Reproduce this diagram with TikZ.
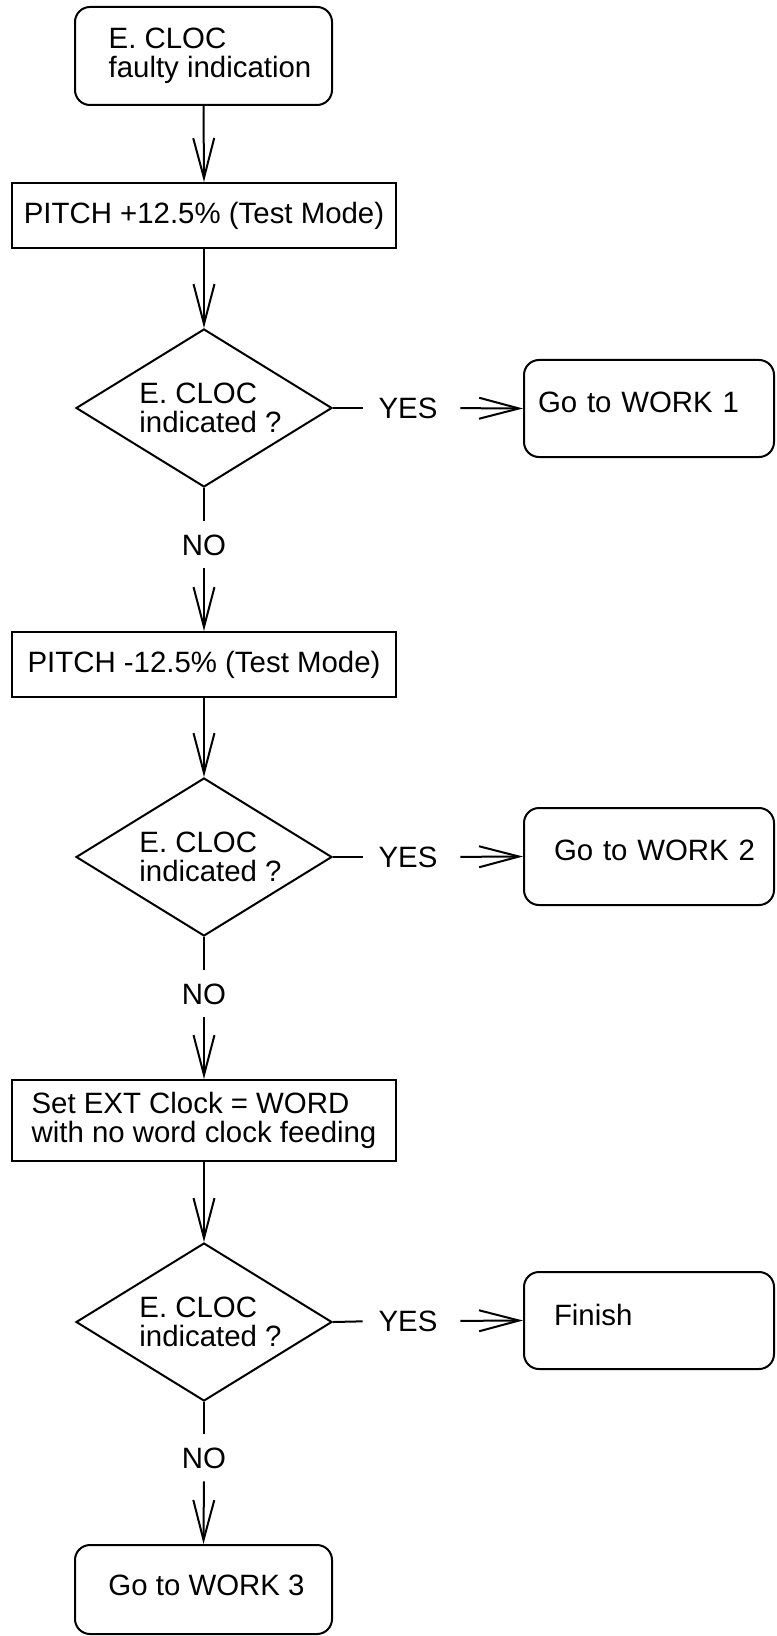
\documentclass[tikz,border=0pt]{standalone}
\usepackage{fontspec}
\setmainfont{Liberation Sans}
\usetikzlibrary{shapes.geometric,arrows.meta}

\tikzset{every picture/.style={line width=1pt}}
\tikzset{
  flow/.style={-{Straight Barb[length=20pt,width=10.5pt]}},
  termbox/.style={draw,rounded corners=7.5pt,align=left},
  gotobox/.style={draw,rounded corners=7.5pt,minimum width=125pt,minimum height=48.5pt,inner xsep=7pt,text width=111pt,align=left,text depth=6pt},
  stepbox/.style={draw,minimum width=192pt,align=left},
  decision/.style={draw,diamond,aspect=1.6,minimum width=128pt,minimum height=79pt,inner sep=1pt,align=left},
  answer/.style={inner sep=0pt}
}
\newcommand{\pad}{\hspace*{6.5pt}}

\begin{document}
\begin{tikzpicture}[x=0.5pt,y=0.5pt,yscale=-1,xscale=1,font=\fontsize{14.7}{14.5}\selectfont]
\useasboundingbox (0,0) rectangle (776,1636);

%Shape: Rounded Rect [id:start]
\node[termbox,minimum width=128.5pt,minimum height=49pt] (start) at (203.5,56) {\pad E. CLOC\\\pad faulty indication};
%Shape: Rectangle [id:pitchup]
\node[stepbox,minimum height=32.5pt] (pitchup) at (204,215.5) {PITCH +12.5\% (Test Mode)};
%Shape: Diamond [id:dec1]
\node[decision] (dec1) at (204,408) {\pad E. CLOC\\\pad indicated ?};
%Shape: Rounded Rect [id:work1]
\node[gotobox] (work1) at (649,408.5) {Go to WORK 1};

%Shape: Rectangle [id:pitchdown]
\node[stepbox,minimum height=32.5pt] (pitchdown) at (204,664.5) {PITCH -12.5\% (Test Mode)};
%Shape: Diamond [id:dec2]
\node[decision] (dec2) at (204,857) {\pad E. CLOC\\\pad indicated ?};
%Shape: Rounded Rect [id:work2]
\node[gotobox] (work2) at (649,856.5) {\hspace*{8pt}Go to WORK 2};

%Shape: Rectangle [id:clockset]
\node[stepbox,minimum height=40.5pt] (clockset) at (204,1120.5) {Set EXT Clock = WORD\\with no word clock feeding};
%Shape: Diamond [id:dec3]
\node[decision] (dec3) at (204,1322) {\pad E. CLOC\\\pad indicated ?};
%Shape: Rounded Rect [id:finish]
\node[gotobox] (finish) at (649,1320.5) {\hspace*{8pt}Finish};
%Shape: Rounded Rect [id:work3]
\node[termbox,minimum width=128.5pt,minimum height=44.5pt,text depth=4pt] (work3) at (203.5,1589.5) {\hspace*{3pt}Go to WORK 3};

% Text Node
\node[answer] (yes1) at (408,408) {YES};
% Text Node
\node[answer] (yes2) at (408,857) {YES};
% Text Node
\node[answer] (yes3) at (408,1321) {YES};
% Text Node
\node[answer] (no1) at (204,545) {NO};
% Text Node
\node[answer] (no2) at (204,994) {NO};
% Text Node
\node[answer] (no3) at (204,1458) {NO};

%Straight Lines
\draw[flow] (start.south) -- (pitchup.north);
\draw[flow] (pitchup.south) -- (dec1.north);
\draw[shorten >=7.5pt] (dec1.east) -- (yes1.west);
\draw[flow,shorten <=11pt] (yes1.east) -- (work1.west);
\draw[shorten >=6.5pt] (dec1.south) -- (no1.north);
\draw[flow,shorten <=6pt] (no1.south) -- (pitchdown.north);

\draw[flow] (pitchdown.south) -- (dec2.north);
\draw[shorten >=7.5pt] (dec2.east) -- (yes2.west);
\draw[flow,shorten <=11pt] (yes2.east) -- (work2.west);
\draw[shorten >=6.5pt] (dec2.south) -- (no2.north);
\draw[flow,shorten <=6pt] (no2.south) -- (clockset.north);

\draw[flow] (clockset.south) -- (dec3.north);
\draw[shorten >=7.5pt] (dec3.east) -- (yes3.west);
\draw[flow,shorten <=11pt] (yes3.east) -- (finish.west);
\draw[shorten >=6.5pt] (dec3.south) -- (no3.north);
\draw[flow,shorten <=6pt] (no3.south) -- (work3.north);

\end{tikzpicture}
\end{document}
